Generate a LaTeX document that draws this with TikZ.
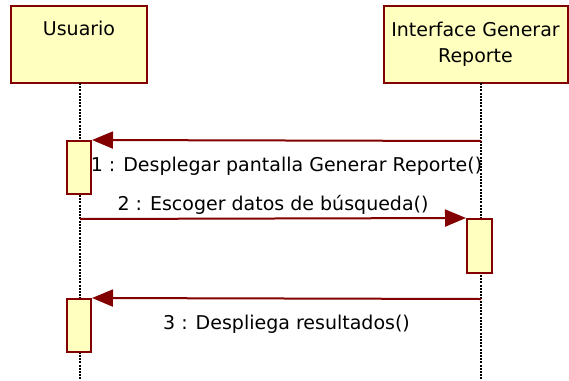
\documentclass[tikz,border=0pt]{standalone}
\usepackage{fontspec}
\setmainfont{DejaVu Sans}
\usepackage{xcolor}
\definecolor{UMLred}{RGB}{130,0,0}
\definecolor{UMLfill}{RGB}{255,255,192}
\usetikzlibrary{arrows.meta, positioning, calc}

\begin{document}
\begin{tikzpicture}[
        x=1pt, y=-1pt,
        actor/.style={rectangle,draw=UMLred,line width=2pt,fill=UMLfill,
                      font=\fontsize{19}{26}\selectfont,align=center,inner sep=5pt},
        act/.style={rectangle,draw=UMLred,line width=2pt,fill=UMLfill,
                    minimum width=24pt,minimum height=53pt,inner sep=0pt},
        lifeline/.style={black,line width=1.5pt,dash pattern=on 2pt off 1.2pt},
        msg/.style={-{Triangle[length=21pt,width=17pt]},UMLred,line width=2pt},
        lbl/.style={font=\fontsize{19}{22}\selectfont,text=black,anchor=base,inner sep=0pt}
      ]
        \useasboundingbox (0,0) rectangle (569,380);

        % objects
        \node[actor,minimum width=136pt,text height=25pt,text depth=42pt] (usuario) at (79,44) {Usuario};
        \node[actor,minimum width=184pt,minimum height=77pt] (interfaz) at (475.5,44) {Interface Generar\\Reporte};

        % lifelines
        \coordinate (utop) at (80,83);
        \coordinate (ubot) at (80,380);
        \coordinate (itop) at (481,83);
        \coordinate (ibot) at (481,380);
        \draw[lifeline] (utop) -- (ubot);
        \draw[lifeline] (itop) -- (ibot);

        % activations
        \node[act] (act1) at (79,167.5) {};
        \node[act,minimum width=25pt,minimum height=54pt] (act2) at (479.5,246) {};
        \node[act] (act3) at (79,325.5) {};

        % messages
        \coordinate (m1) at (481,141);
        \coordinate (m2) at (80,219);
        \coordinate (m3) at (481,299);
        \draw[msg] (m1) -- node[lbl,yshift=-31pt]{1 : Desplegar pantalla Generar Reporte()} (act1.north east);
        \draw[msg] (m2) -- node[lbl,yshift=8.3pt]{2 : Escoger datos de búsqueda()} (act2.north west);
        \draw[msg] (m3) -- node[lbl,yshift=-31pt]{3 : Despliega resultados()} (act3.north east);
      \end{tikzpicture}
\end{document}
